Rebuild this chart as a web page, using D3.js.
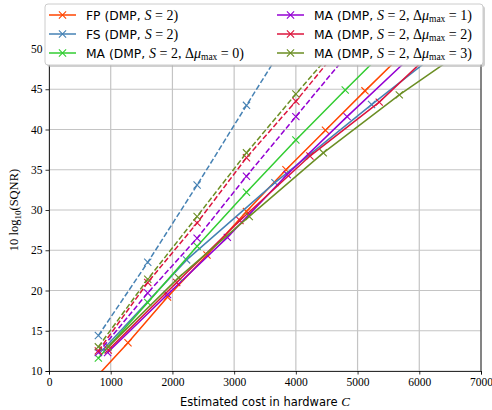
<!DOCTYPE html>
<html>
<head>
<meta charset="utf-8">
<script src="https://cdn.jsdelivr.net/npm/d3@7"></script>
<style>
  body { margin: 0; background: #fff; }
  text { fill: #000; }
</style>
</head>
<body>
<div id="chart"></div>
<script>
// data (cost C, 10 log10 SQNR)
var fpCost = [640, 1280, 1920, 2560, 3200, 3840, 4480, 5120, 5760, 6400];
var fpSqnr = [8.2, 13.5, 19.2, 24.4, 29.8, 35.0, 39.9, 44.8, 49.6, 54.4];

var fsCost = [870, 2230, 3661, 5227, 6790];
var fsSqnr = [12.6, 23.8, 33.4, 43.1, 52.5];

var ma0Cost = [800, 1600, 2400, 3200, 4000, 4800, 5600];
var ma0Sqnr = [11.6, 18.5, 25.5, 32.2, 38.7, 44.9, 51.0];

var ma1Cost = [950, 1920, 2890, 3860, 4830, 5800, 6770];
var ma1Sqnr = [12.3, 19.5, 26.6, 34.4, 41.6, 48.6, 55.5];

var ma2Cost = [960, 2069, 3094, 4228, 5351, 6470];
var ma2Sqnr = [12.6, 21.0, 28.7, 36.7, 43.4, 51.5];

var ma3Cost = [960, 2100, 3245, 4444, 5676, 6900];
var ma3Sqnr = [13.0, 21.6, 29.2, 37.1, 44.3, 50.8];

// dashed variants
var fsDashCost = [800, 1600, 2400, 3200, 4000];
var fsDashSqnr = [14.4, 23.5, 33.1, 43.0, 52.8];
var ma1DashCost = [800, 1600, 2400, 3200, 4000, 4800];
var ma1DashSqnr = [12.3, 19.7, 26.5, 34.2, 41.6, 49.0];
var ma2DashCost = [800, 1600, 2400, 3200, 4000, 4800];
var ma2DashSqnr = [12.5, 21.0, 28.4, 36.5, 43.5, 51.0];
var ma3DashCost = [800, 1600, 2400, 3200, 4000, 4800];
var ma3DashSqnr = [13.0, 21.4, 29.2, 37.1, 44.4, 51.5];

var xTicks = [0, 1000, 2000, 3000, 4000, 5000, 6000, 7000];
var yTicks = [10, 15, 20, 25, 30, 35, 40, 45, 50];

var colors = {
  fp: "#ff4500", fs: "#4682b4", ma0: "#32cd32",
  ma1: "#9400d3", ma2: "#dc143c", ma3: "#6b8e23"
};

function zip(xs, ys) {
  return xs.map(function(x, i) { return {c: x, s: ys[i]}; });
}

var series = [
  {key: "fp", data: zip(fpCost, fpSqnr), dash: false},
  {key: "fs", data: zip(fsCost, fsSqnr), dash: false},
  {key: "ma0", data: zip(ma0Cost, ma0Sqnr), dash: false},
  {key: "ma1", data: zip(ma1Cost, ma1Sqnr), dash: false},
  {key: "ma2", data: zip(ma2Cost, ma2Sqnr), dash: false},
  {key: "ma3", data: zip(ma3Cost, ma3Sqnr), dash: false},
  {key: "fs", data: zip(fsDashCost, fsDashSqnr), dash: true},
  {key: "ma1", data: zip(ma1DashCost, ma1DashSqnr), dash: true},
  {key: "ma2", data: zip(ma2DashCost, ma2DashSqnr), dash: true},
  {key: "ma3", data: zip(ma3DashCost, ma3DashSqnr), dash: true}
];

var W = 492, H = 410;
var margin = {top: 49, right: 11, bottom: 39, left: 49},
    width = W - margin.left - margin.right,
    height = H - margin.top - margin.bottom;

var svg = d3.select("#chart")
  .append("svg")
    .attr("width", W)
    .attr("height", H);

var g = svg.append("g")
    .attr("transform", "translate(" + margin.left + "," + margin.top + ")");

var x = d3.scaleLinear().domain([0, 7000]).range([0, width]);
var y = d3.scaleLinear().domain([10, 50]).range([height, 0]);

g.append("defs").append("clipPath").attr("id", "clip")
  .append("rect").attr("width", width).attr("height", height);

// grid
g.selectAll(".gx").data(xTicks).enter().append("line")
  .attr("x1", function(d) { return x(d); }).attr("x2", function(d) { return x(d); })
  .attr("y1", 0).attr("y2", height)
  .attr("stroke", "#c4c4c4").attr("stroke-width", 1.2);
g.selectAll(".gy").data(yTicks).enter().append("line")
  .attr("y1", function(d) { return y(d); }).attr("y2", function(d) { return y(d); })
  .attr("x1", 0).attr("x2", width)
  .attr("stroke", "#c4c4c4").attr("stroke-width", 1.2);

// lines + markers
var plot = g.append("g").attr("clip-path", "url(#clip)");
var line = d3.line()
  .x(function(d) { return x(d.c); })
  .y(function(d) { return y(d.s); });

series.forEach(function(sr) {
  var col = colors[sr.key];
  plot.append("path")
    .datum(sr.data)
    .attr("fill", "none")
    .attr("stroke", col)
    .attr("stroke-width", 1.5)
    .attr("stroke-dasharray", sr.dash ? "5.5,2.4" : null)
    .attr("d", line);
  plot.selectAll(null).data(sr.data).enter().append("path")
    .attr("transform", function(d) { return "translate(" + x(d.c) + "," + y(d.s) + ")"; })
    .attr("d", "M-3.6,-3.6L3.6,3.6M-3.6,3.6L3.6,-3.6")
    .attr("stroke", col)
    .attr("stroke-width", 1.1)
    .attr("fill", "none");
});

// axes
var xAxis = g.append("g")
  .attr("transform", "translate(0," + height + ")")
  .call(d3.axisBottom(x).tickValues(xTicks).tickSize(3.5).tickPadding(3).tickFormat(d3.format("d")));
var yAxis = g.append("g")
  .call(d3.axisLeft(y).tickValues(yTicks).tickSize(3.5).tickPadding(3).tickFormat(d3.format("d")));
[xAxis, yAxis].forEach(function(a) {
  a.selectAll("text").attr("font-family", "'Liberation Serif', serif").attr("font-size", 11.5).style("fill", "#000");
  a.selectAll("line").attr("stroke", "#000").attr("stroke-width", 0.8);
  a.select(".domain").attr("stroke", "#000").attr("stroke-width", 0.8);
});
// right and top spines
g.append("line").attr("x1", width).attr("x2", width).attr("y1", 0).attr("y2", height)
  .attr("stroke", "#000").attr("stroke-width", 0.8);
g.append("line").attr("x1", 0).attr("x2", width).attr("y1", 0).attr("y2", 0)
  .attr("stroke", "#000").attr("stroke-width", 0.8);

// axis labels
var xl = svg.append("text")
  .attr("x", margin.left + width / 2).attr("y", 406)
  .attr("text-anchor", "middle")
  .attr("font-family", "'DejaVu Sans', sans-serif").attr("font-size", 11.5);
xl.append("tspan").text("Estimated cost in hardware ");
xl.append("tspan").attr("font-family", "'Liberation Serif', serif").attr("font-style", "italic")
  .attr("font-size", 13).text("C");

var yl = svg.append("text")
  .attr("transform", "translate(18," + (margin.top + height / 2) + ") rotate(-90)")
  .attr("text-anchor", "middle")
  .attr("font-family", "'Liberation Serif', serif").attr("font-size", 12.5);
yl.append("tspan").text("10 log");
yl.append("tspan").attr("font-size", 9).attr("dy", 3).text("10");
yl.append("tspan").attr("dy", -3).text("(SQNR)");

// legend
var legendItems = [
  {key: "fp", name: "FP", mu: null},
  {key: "fs", name: "FS", mu: null},
  {key: "ma0", name: "MA", mu: "0"},
  {key: "ma1", name: "MA", mu: "1"},
  {key: "ma2", name: "MA", mu: "2"},
  {key: "ma3", name: "MA", mu: "3"}
];

var lg = svg.append("g");
lg.append("rect").attr("x", 47).attr("y", 6).attr("width", 438).attr("height", 61)
  .attr("rx", 3).attr("fill", "#b0b0b0").attr("opacity", 0.6);
lg.append("rect").attr("x", 45).attr("y", 4).attr("width", 438).attr("height", 61)
  .attr("rx", 3).attr("fill", "#fff").attr("stroke", "#cccccc").attr("stroke-width", 1);

legendItems.forEach(function(it, i) {
  var col = Math.floor(i / 3), row = i % 3;
  var hx = col === 0 ? 49 : 277, ty = 15 + row * 19;
  var c = colors[it.key];
  lg.append("line").attr("x1", hx).attr("x2", hx + 27).attr("y1", ty).attr("y2", ty)
    .attr("stroke", c).attr("stroke-width", 1.5);
  lg.append("path").attr("transform", "translate(" + (hx + 13.5) + "," + ty + ")")
    .attr("d", "M-3.6,-3.6L3.6,3.6M-3.6,3.6L3.6,-3.6")
    .attr("stroke", c).attr("stroke-width", 1.1);
  var t = lg.append("text").attr("x", hx + 37).attr("y", ty + 4.5)
    .attr("font-family", "'DejaVu Sans', sans-serif").attr("font-size", 12.3);
  t.append("tspan").text(it.name + " (DMP, ");
  t.append("tspan").attr("font-family", "'Liberation Serif', serif").attr("font-style", "italic")
    .attr("font-size", 14).text("S");
  t.append("tspan").attr("font-family", "'Liberation Serif', serif").attr("font-size", 14).text(" = 2");
  if (it.mu !== null) {
    t.append("tspan").attr("font-family", "'Liberation Serif', serif").attr("font-size", 14).text(", \u0394");
    t.append("tspan").attr("font-family", "'Liberation Serif', serif").attr("font-style", "italic")
      .attr("font-size", 14).text("\u03bc");
    t.append("tspan").attr("font-family", "'Liberation Serif', serif").attr("font-size", 9.5)
      .attr("dy", 2.5).text("max");
    t.append("tspan").attr("font-family", "'Liberation Serif', serif").attr("font-size", 14)
      .attr("dy", -2.5).text(" = " + it.mu);
  }
  t.append("tspan").attr("font-family", "'Liberation Serif', serif").attr("font-size", 14).text(")");
});
</script>
</body>
</html>
